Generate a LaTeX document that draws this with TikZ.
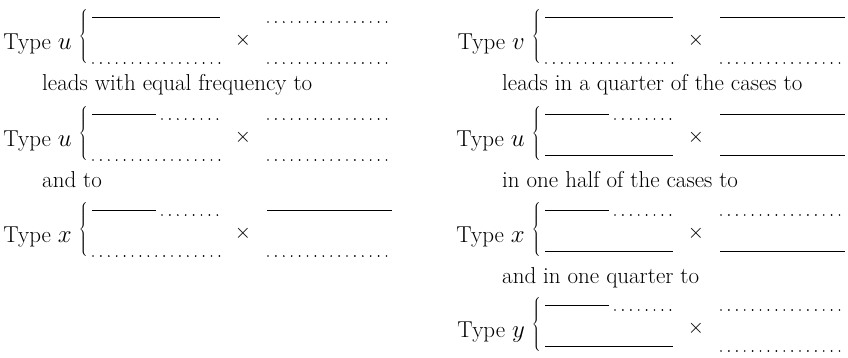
\documentclass[tikz,border=0pt]{standalone}
\usetikzlibrary{calc}

\tikzset{
  rulepen/.style={line width=0.9pt},
  dotpen/.style={line width=1.9pt, line cap=round, dash pattern=on 0pt off 7.9pt},
  lbl/.style={font=\fontsize{23}{27}\selectfont, inner sep=0pt},
  brc/.style={font=\fontsize{17}{20}\selectfont, inner sep=0pt},
  timesign/.style={font=\fontsize{22}{26}\selectfont, inner sep=0pt},
}

% a segment: #1 start x, #2 end x, #3 block centre y, #4 side (-1 top, 1 bottom)
\newcommand\segS[4]{\draw[rulepen] (#1,{#3-2.5+#4*20.5}) -- (#2,{#3-2.5+#4*20.5});}
\newcommand\segD[4]{\draw[dotpen] (#1+1,{#3+2.5+#4*20.5}) -- (#2,{#3+2.5+#4*20.5});}
\newcommand\segM[4]{\segS{#1}{#1+64}{#3}{#4}\segD{#1+69}{#2}{#3}{#4}}

% one block: #1 name, #2 column shift, #3 centre y, #4 label,
% #5 top-left, #6 bottom-left, #7 top-right, #8 bottom-right (S, D or M)
\newcommand\blk[8]{%
  \node[lbl, anchor=base east] (#1-l) at (#2+72, #3+9) {#4};
  \node[brc] (#1-b) at (#2+84, #3-2.5) {$\left\{\vrule height 24.5pt depth 24.5pt width 0pt\right.$};
  \node[timesign] (#1-x) at (#2+243, #3) {$\times$};
  \csname seg#5\endcsname{#2+92}{#2+220}{#3}{-1}
  \csname seg#6\endcsname{#2+92}{#2+220}{#3}{1}
  \csname seg#7\endcsname{#2+267}{#2+392}{#3}{-1}
  \csname seg#8\endcsname{#2+267}{#2+392}{#3}{1}
}

\begin{document}
\begin{tikzpicture}[x=1pt, y=-1pt]
  \useasboundingbox (0,0) rectangle (848,357);

  % left column
  \blk{a1}{0}{40}{Type $u$}{S}{D}{D}{D}
  \node[lbl, anchor=base west] (ta1) at (42, 90) {leads with equal frequency to};
  \blk{a2}{0}{137}{Type $u$}{M}{D}{D}{D}
  \node[lbl, anchor=base west] (ta2) at (42, 187) {and to};
  \blk{a3}{0}{233}{Type $x$}{M}{D}{S}{D}

  % right column
  \blk{b1}{453}{40}{Type $v$}{S}{D}{S}{D}
  \node[lbl, anchor=base west] (tb1) at (502, 90) {leads in a quarter of the cases to};
  \blk{b2}{453}{137}{Type $u$}{M}{S}{S}{S}
  \node[lbl, anchor=base west] (tb2) at (502, 187) {in one half of the cases to};
  \blk{b3}{453}{233}{Type $x$}{M}{S}{D}{S}
  \node[lbl, anchor=base west] (tb3) at (502, 283) {and in one quarter to};
  \blk{b4}{453}{328}{Type $y$}{M}{S}{D}{D}
\end{tikzpicture}
\end{document}
